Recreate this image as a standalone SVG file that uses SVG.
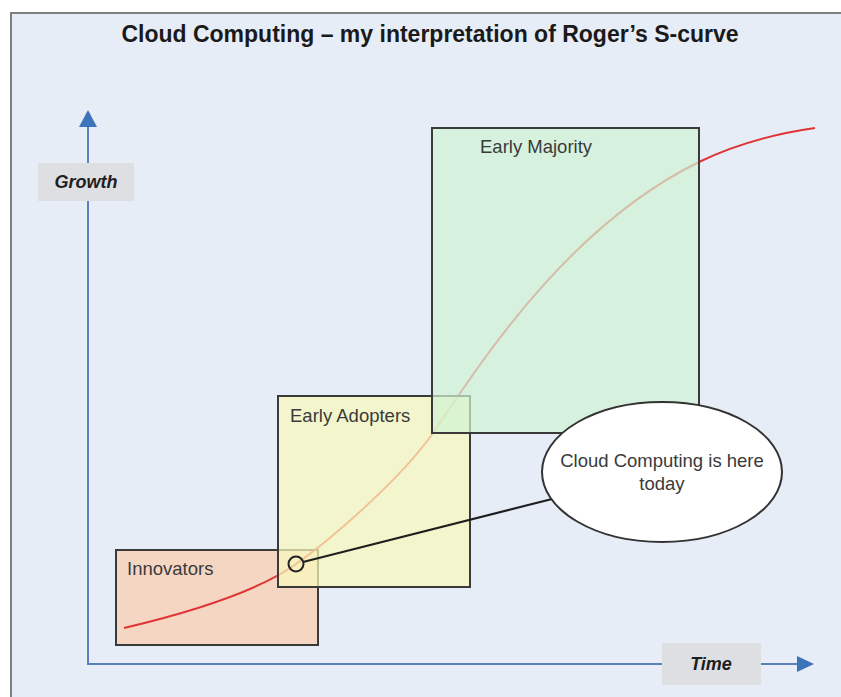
<svg xmlns="http://www.w3.org/2000/svg" width="841" height="697" viewBox="0 0 841 697">
  <style>
    .lbl { font-family: "Liberation Sans", Arial, sans-serif; font-size: 18.5px; fill: #3a3a3a; }
    .axlbl { font-family: "Liberation Sans", Arial, sans-serif; font-size: 18px; font-weight: bold; font-style: italic; fill: #1e1e1e; }
    .box { stroke: #3a3a3a; stroke-width: 2; }
    .axis { stroke: #5b80c0; stroke-width: 2; fill: none; }
    .tag { fill: #dedfe2; }
  </style>
  <rect x="0" y="0" width="841" height="697" fill="#ffffff"/>
  <rect id="frame" x="11" y="13" width="845" height="700" fill="#e7edf7" stroke="#808080" stroke-width="2"/>
  <text id="title" x="430" y="42" text-anchor="middle" font-family="'Liberation Sans', Arial, sans-serif" font-size="23" font-weight="bold" fill="#1a1a1a">Cloud Computing – my interpretation of Roger’s S-curve</text>

  <g id="axes">
    <line class="axis" x1="88" y1="664" x2="88" y2="126"/>
    <path d="M79,127 L88,110 L97,127 Z" fill="#3d73b9"/>
    <line class="axis" x1="87" y1="664" x2="798" y2="664"/>
    <path d="M797,656 L814,664 L797,672 Z" fill="#3d73b9"/>
  </g>
  <g id="growth">
    <rect class="tag" x="38" y="163" width="96" height="38"/>
    <text class="axlbl" x="86" y="188" text-anchor="middle">Growth</text>
  </g>
  <g id="time">
    <rect class="tag" x="662" y="643" width="99" height="42"/>
    <text class="axlbl" x="711" y="670" text-anchor="middle">Time</text>
  </g>

  <g id="innovators">
    <rect class="box" x="116" y="550" width="202" height="95" fill="#f5d6c3"/>
    <text class="lbl" x="127" y="575">Innovators</text>
  </g>

  <g id="s-curve">
    <path d="M124,628 C200,610 260,590 296,564 C330,540 400,480 433,433 C470,380 560,230 699,162 C740,142 780,133 815,128" fill="none" stroke="#e03434" stroke-width="2"/>
  </g>

  <g id="early-adopters">
    <rect class="box" x="278" y="396" width="192" height="191" fill="#f8f9bc" fill-opacity="0.72"/>
    <text class="lbl" x="290" y="422">Early Adopters</text>
  </g>

  <g id="early-majority">
    <rect class="box" x="432" y="128" width="267" height="305" fill="#d0f3d4" fill-opacity="0.72"/>
    <text class="lbl" x="480" y="153">Early Majority</text>
  </g>

  <g id="connectors">
    <line x1="303" y1="562" x2="560" y2="497" stroke="#1e1e1e" stroke-width="2"/>
  </g>

  <g id="today-marker">
    <circle cx="296" cy="564" r="7.5" fill="none" stroke="#222222" stroke-width="2"/>
  </g>

  <g id="callout">
    <ellipse cx="662" cy="472" rx="120" ry="70" fill="#ffffff" stroke="#333333" stroke-width="2"/>
    <text class="lbl" x="662" y="467" text-anchor="middle">Cloud Computing is here</text>
    <text class="lbl" x="662" y="490" text-anchor="middle">today</text>
  </g>
</svg>
